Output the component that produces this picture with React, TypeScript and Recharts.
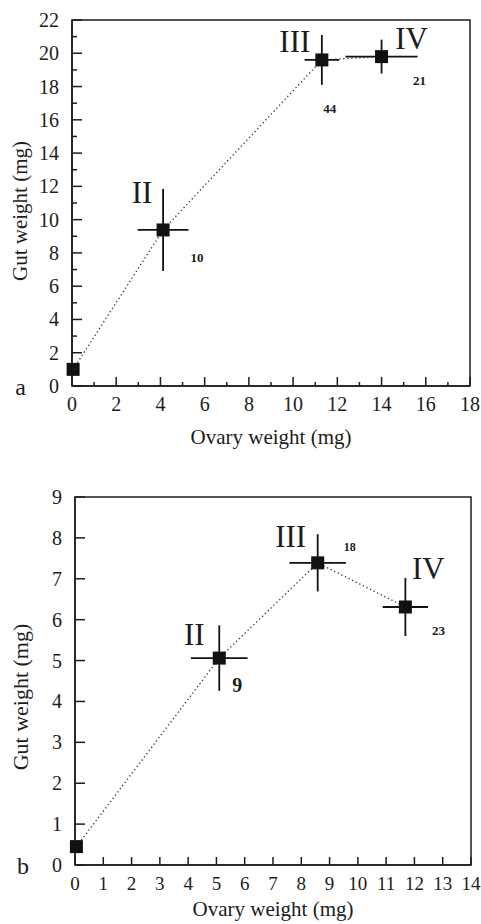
import {
  ErrorBar,
  ReferenceArea,
  ReferenceDot,
  Scatter,
  ScatterChart,
  XAxis,
  YAxis
} from "recharts";

const INK = "#1c1c1c";
const SERIF = "'Liberation Serif', 'Times New Roman', serif";

const stages = ["", "II", "III", "IV"];

// panel a
const ovaryA = [0.05, 4.12, 11.3, 14.0];
const gutA = [1.0, 9.38, 19.6, 19.8];
const ovaryErrA = [0, 1.15, 0.78, 1.63];
const gutErrA = [0, 2.46, 1.5, 1.02];
const countA = ["", "10", "44", "21"];
const xTicksA = [0, 1, 2, 3, 4, 5, 6, 7, 8, 9, 10, 11, 12, 13, 14, 15, 16, 17, 18];
const yTicksA = [0, 1, 2, 3, 4, 5, 6, 7, 8, 9, 10, 11, 12, 13, 14, 15, 16, 17, 18, 19, 20, 21, 22];

// panel b
const ovaryB = [0.05, 5.1, 8.58, 11.68];
const gutB = [0.45, 5.06, 7.39, 6.31];
const ovaryErrB = [0, 1.0, 1.0, 0.8];
const gutErrB = [0, 0.8, 0.7, 0.71];
const countB = ["", "9", "18", "23"];
const xTicksB = [0, 1, 2, 3, 4, 5, 6, 7, 8, 9, 10, 11, 12, 13, 14];
const yTicksB = [0, 1, 2, 3, 4, 5, 6, 7, 8, 9];

// where the stage numeral and sample size sit around each point (px from centre)
const layoutA: Record<string, { sx: number; sy: number; nx: number; ny: number; nSize: number }> = {
  II: { sx: -21, sy: -37, nx: 34, ny: 28, nSize: 13 },
  III: { sx: -27, sy: -18, nx: 8, ny: 49, nSize: 13 },
  IV: { sx: 30, sy: -18, nx: 38, ny: 24, nSize: 13 }
};
const layoutB: Record<string, { sx: number; sy: number; nx: number; ny: number; nSize: number }> = {
  II: { sx: -25, sy: -24, nx: 18, ny: 27, nSize: 20 },
  III: { sx: -27, sy: -26, nx: 32, ny: -16, nSize: 12 },
  IV: { sx: 23, sy: -38, nx: 33, ny: 24, nSize: 13 }
};

function rows(xs: number[], ys: number[], xe: number[], ye: number[], n: string[]) {
  return xs.map((x, i) => ({ x, y: ys[i], xErr: xe[i], yErr: ye[i], stage: stages[i], n: n[i] }));
}

function makeShape(layout: typeof layoutA) {
  return (props: any) => {
    const { cx, cy, payload } = props;
    const pos = layout[payload.stage];
    return (
      <g>
        <rect x={cx - 6.5} y={cy - 6.5} width={13} height={13} fill="#111" />
        {pos && (
          <text
            x={cx + pos.sx}
            y={cy + pos.sy}
            textAnchor="middle"
            dominantBaseline="central"
            fontFamily={SERIF}
            fontSize={31}
            fill={INK}
          >
            {payload.stage}
          </text>
        )}
        {pos && (
          <text
            x={cx + pos.nx}
            y={cy + pos.ny}
            textAnchor="middle"
            dominantBaseline="central"
            fontFamily={SERIF}
            fontWeight="bold"
            fontSize={pos.nSize}
            fill={INK}
          >
            {payload.n}
          </text>
        )}
      </g>
    );
  };
}

function makeXTick(every: number, major: number, minor: number, size: number) {
  return (props: any) => {
    const { x, y, payload } = props;
    const labelled = payload.value % every === 0;
    return (
      <g>
        <line x1={x} x2={x} y1={y} y2={y - (labelled ? major : minor)} stroke={INK} strokeWidth={1.5} />
        {labelled && (
          <text x={x} y={y + 25} textAnchor="middle" fontFamily={SERIF} fontSize={size} fill={INK}>
            {payload.value}
          </text>
        )}
      </g>
    );
  };
}

function makeYTick(every: number, major: number, minor: number) {
  return (props: any) => {
    const { x, y, payload } = props;
    const labelled = payload.value % every === 0;
    return (
      <g>
        <line x1={x} x2={x + (labelled ? major : minor)} y1={y} y2={y} stroke={INK} strokeWidth={1.5} />
        {labelled && (
          <text x={x - 13} y={y + 7} textAnchor="end" fontFamily={SERIF} fontSize={20} fill={INK}>
            {payload.value}
          </text>
        )}
      </g>
    );
  };
}

type PanelProps = {
  letter: string;
  data: ReturnType<typeof rows>;
  layout: typeof layoutA;
  xTicks: number[];
  yTicks: number[];
  xEvery: number;
  yEvery: number;
  xMajor: number;
  xMinor: number;
  xTickSize: number;
  height: number;
  margin: { top: number; right: number; bottom: number; left: number };
  yAxisWidth: number;
  xTitleOffset: number;
  yTitleDy: number;
  yTitleSize: number;
};

function Panel(p: PanelProps) {
  const xMax = p.xTicks[p.xTicks.length - 1];
  const yMax = p.yTicks[p.yTicks.length - 1];
  return (
    <ScatterChart width={481} height={p.height} margin={p.margin}>
      <ReferenceArea x1={0} x2={xMax} y1={0} y2={yMax} fill="none" stroke={INK} strokeWidth={1.5} />
      <XAxis
        type="number"
        dataKey="x"
        domain={[0, xMax]}
        ticks={p.xTicks}
        interval={0}
        height={30}
        stroke={INK}
        strokeWidth={1.5}
        tickLine={false}
        tickSize={0}
        tickMargin={0}
        tick={makeXTick(p.xEvery, p.xMajor, p.xMinor, p.xTickSize)}
        label={{
          value: "Ovary weight (mg)",
          position: "bottom",
          offset: p.xTitleOffset,
          fontFamily: SERIF,
          fontSize: 21,
          fill: INK
        }}
      />
      <YAxis
        type="number"
        dataKey="y"
        domain={[0, yMax]}
        ticks={p.yTicks}
        interval={0}
        width={p.yAxisWidth}
        stroke={INK}
        strokeWidth={1.5}
        tickLine={false}
        tickSize={0}
        tickMargin={0}
        tick={makeYTick(p.yEvery, 10, 5)}
        label={{
          value: "Gut weight (mg)",
          angle: -90,
          position: "insideLeft",
          offset: 20,
          dy: p.yTitleDy,
          fontFamily: SERIF,
          fontSize: p.yTitleSize,
          fill: INK,
          style: { textAnchor: "middle" }
        }}
      />
      <ReferenceDot
        x={0}
        y={0}
        r={0}
        fill="none"
        stroke="none"
        ifOverflow="visible"
        label={{ value: p.letter, position: "left", offset: 46, fontFamily: SERIF, fontSize: 24, fill: INK }}
      />
      <Scatter
        data={p.data}
        isAnimationActive={false}
        line={{ stroke: "#333", strokeWidth: 1.3, strokeDasharray: "1.3 2.7" }}
        lineType="joint"
        shape={makeShape(p.layout)}
      >
        <ErrorBar dataKey="xErr" direction="x" width={0} stroke="#111" strokeWidth={1.8} isAnimationActive={false} />
        <ErrorBar dataKey="yErr" direction="y" width={0} stroke="#111" strokeWidth={1.8} isAnimationActive={false} />
      </Scatter>
    </ScatterChart>
  );
}

export default function App() {
  return (
    <div style={{ position: "absolute", left: 0, top: 0, width: 481, height: 924, background: "#fff" }}>
      <div style={{ position: "absolute", left: 0, top: 0 }}>
        <Panel
          letter="a"
          data={rows(ovaryA, gutA, ovaryErrA, gutErrA, countA)}
          layout={layoutA}
          xTicks={xTicksA}
          yTicks={yTicksA}
          xEvery={2}
          yEvery={2}
          xMajor={9}
          xMinor={4}
          xTickSize={20}
          height={470}
          margin={{ top: 20, right: 11, bottom: 54, left: 0 }}
          yAxisWidth={72}
          xTitleOffset={13}
          yTitleDy={8}
          yTitleSize={21}
        />
      </div>
      <div style={{ position: "absolute", left: 0, top: 470 }}>
        <Panel
          letter="b"
          data={rows(ovaryB, gutB, ovaryErrB, gutErrB, countB)}
          layout={layoutB}
          xTicks={xTicksB}
          yTicks={yTicksB}
          xEvery={1}
          yEvery={1}
          xMajor={8}
          xMinor={8}
          xTickSize={19}
          height={454}
          margin={{ top: 27, right: 10, bottom: 29, left: 0 }}
          yAxisWidth={75}
          xTitleOffset={6}
          yTitleDy={16}
          yTitleSize={22}
        />
      </div>
    </div>
  );
}
